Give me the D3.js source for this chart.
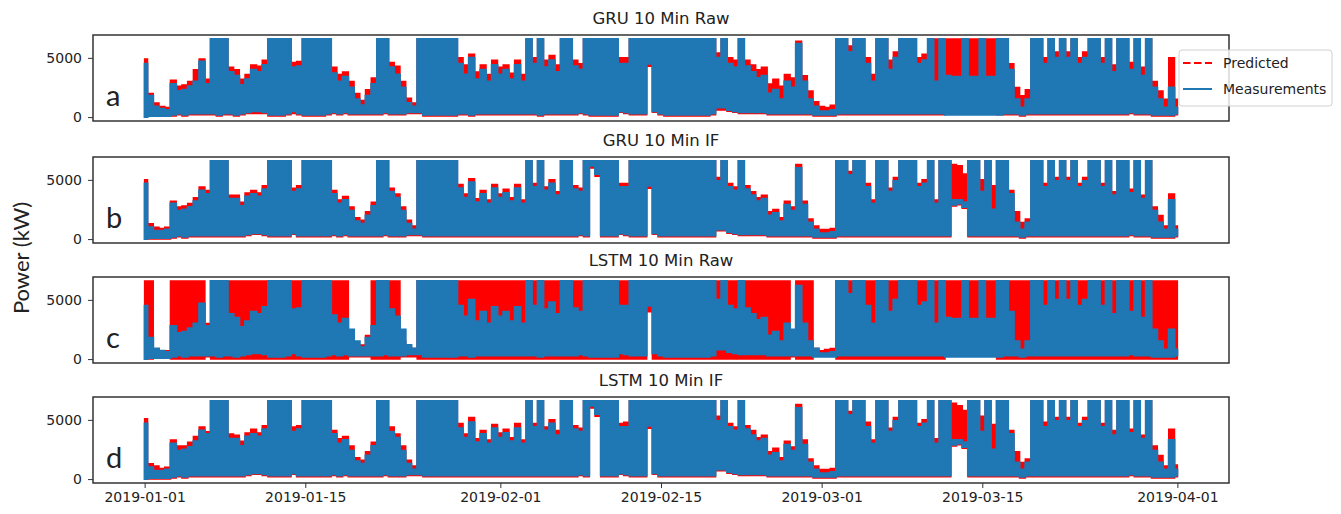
<!DOCTYPE html>
<html>
<head>
<meta charset="utf-8">
<script src="https://cdn.jsdelivr.net/npm/d3@7"></script>
<style>
  body { margin: 0; background: #fff; }
  svg text { font-family: "DejaVu Sans", sans-serif; fill: #222; }
</style>
</head>
<body>
<script>
const width = 1341;
const height = 514;

// half-day samples from 2019-01-01 00:00 to 2019-04-01 00:00 (181 points), values in kW
const startDate = Date.UTC(2019, 0, 1);
const stepMs = 12 * 3600 * 1000;

const tickDates = ['2019-01-01', '2019-01-15', '2019-02-01', '2019-02-15', '2019-03-01', '2019-03-15', '2019-04-01'];
const yTicks = [0, 5000];
const panelTitles = ['GRU 10 Min Raw', 'GRU 10 Min IF', 'LSTM 10 Min Raw', 'LSTM 10 Min IF'];
const panelLetters = ['a', 'b', 'c', 'd'];
const legendLabels = ['Predicted', 'Measurements'];

// measurements, raw (upper / lower envelope of the 10 min trace)
const measRawHi = [
  4500,1800,900,700,600,2800,2200,2300,2600,3000,
  4700,2800,6600,6600,6600,3800,3500,2700,3200,4000,
  3800,4400,6600,6600,6600,6600,4200,4300,6600,6600,
  6600,6600,6600,3700,3000,3400,2500,1500,1000,1800,
  2800,6600,6600,4200,3600,2500,1200,900,6600,6600,
  6600,6600,6600,6600,6600,4500,3600,5000,3200,4000,
  3000,4400,3600,4000,3200,4400,3000,6600,4500,6600,
  4200,4800,3800,6600,6600,4300,4000,6600,6600,6600,
  6600,6600,6600,4500,4500,6600,6600,6600,6600,6600,
  6600,6600,6600,6600,6600,6600,6600,6600,6600,6600,
  5000,6600,4500,4200,6600,4300,3800,3300,3500,2000,
  2300,1500,3000,2500,6200,3000,1500,900,500,500,
  600,6600,6600,5500,6600,6600,4500,3000,6600,6600,
  4000,5000,6600,6600,6600,4500,4800,6600,3000,6600,
  3500,3400,3400,6600,3400,3400,6600,3400,3400,6600,
  6600,4000,1500,800,1500,6600,6600,4500,6600,5000,
  6600,5000,6600,4500,5000,6600,6600,4500,6600,3800,
  6600,6600,4000,6600,3500,6600,2500,1500,800,2500,800
];
const measRawLo = [
  0,100,100,100,100,200,300,200,300,300,
  300,300,300,200,300,300,200,300,400,500,
  500,400,200,200,200,300,500,300,200,200,
  200,200,300,400,300,400,300,300,300,300,
  300,300,400,300,300,300,400,400,400,200,
  200,200,200,200,200,300,300,200,300,300,
  300,300,300,300,300,300,300,300,300,200,
  300,300,300,300,300,300,400,300,200,200,
  200,200,200,500,400,300,300,300,4500,500,
  300,200,200,200,200,200,200,200,200,300,
  800,800,600,500,400,400,400,400,400,300,
  300,300,300,300,300,300,300,200,200,200,
  200,300,300,300,300,300,300,300,300,300,
  300,300,300,300,300,300,300,300,300,300,
  200,200,200,200,200,200,200,200,200,200,
  300,300,300,200,300,300,300,300,300,300,
  300,300,300,300,300,300,300,300,300,300,
  300,300,400,300,300,300,200,200,200,200,300
];

// measurements after isolation-forest cleaning
const measIfHi = [
  4700,1000,700,700,800,3000,2400,2500,2700,3200,
  4100,3800,6600,6600,6600,3400,3400,2800,3600,3800,
  3600,4200,6600,6600,6600,6600,4000,4200,6600,6600,
  6600,6600,6600,3800,3000,3300,2400,1500,1300,2000,
  2800,6600,6600,4000,3500,2400,1300,800,6600,6600,
  6600,6600,6600,6600,6600,4300,3500,4800,3100,3800,
  3000,4300,3500,3900,3200,4300,3000,6600,4400,6600,
  4100,4700,3700,6600,6600,4200,4000,6600,6600,6600,
  6600,6600,6600,4400,4400,6600,6600,6600,6600,6600,
  6600,6600,6600,6600,6600,6600,6600,6600,6600,6600,
  4900,6600,4400,4100,6600,4200,3700,3200,3400,2000,
  2200,1500,2900,2400,6000,2900,1400,800,500,500,
  600,6600,6600,5400,6600,6600,4400,3000,6600,6600,
  4000,4900,6600,6600,6600,4400,4700,6600,3000,6600,
  6600,3300,3300,3100,6600,6600,4000,6600,2500,6600,
  6600,3800,1400,800,1400,6600,6600,4400,6600,4900,
  6600,4900,6600,4400,4900,6600,6600,4400,6600,3700,
  6600,6600,3900,6600,3400,6600,2400,1400,800,3300,800
];
const measIfLo = [
  0,100,100,100,100,200,300,200,300,300,
  300,300,300,300,300,300,300,300,400,500,
  500,400,300,300,300,300,500,300,300,300,
  300,300,300,400,300,400,300,300,300,300,
  300,300,400,300,300,300,400,400,400,300,
  300,300,300,300,300,300,300,300,300,300,
  300,300,300,300,300,300,300,300,300,300,
  300,300,300,300,300,300,400,300,6200,5500,
  300,300,300,500,400,300,300,300,4500,500,
  300,300,300,300,300,300,300,300,300,300,
  800,800,600,500,400,400,400,400,400,300,
  300,300,300,300,300,300,300,200,200,200,
  200,300,300,300,300,300,300,300,300,300,
  300,300,300,300,300,300,300,300,300,300,
  300,2900,3000,2700,300,300,300,300,300,300,
  300,300,300,200,300,300,300,300,300,300,
  300,300,300,300,300,300,300,300,300,300,
  300,300,400,300,300,300,200,200,200,200,300
];

// GRU predictions on raw data
const gruRawPredHi = [
  4900,2000,1200,900,800,3100,2600,2700,3000,4000,
  4900,3200,6600,6600,6600,4200,4000,3200,3600,4400,
  4300,4800,6600,6600,6600,6600,4600,4700,6600,6600,
  6600,6600,6600,4200,3600,3800,3000,2000,1400,2300,
  3300,6600,6600,4600,4300,3000,1600,1200,6600,6600,
  6600,6600,6600,6600,6600,5000,4400,5300,3800,4400,
  3600,4800,4200,4400,3700,4800,3600,6600,5000,6600,
  4800,5200,4400,6600,6600,4800,4500,6600,6600,6600,
  6600,6600,6600,5000,5000,6600,6600,6600,6600,6600,
  6600,6600,6600,6600,6600,6600,6600,6600,6600,6600,
  5400,6600,5000,4800,6600,4800,4400,4000,4200,2800,
  3200,2600,3600,3300,6400,3500,2200,1300,900,800,
  1000,6600,6600,6000,6600,6600,5000,3600,6600,6600,
  4800,5500,6600,6600,6600,5000,5300,6600,6600,6600,
  6600,6600,6600,6600,6600,6600,6600,6600,6600,6600,
  6600,4500,2500,1800,2300,6600,6600,5000,6600,5500,
  6600,5500,6600,5000,5500,6600,6600,5000,6600,4400,
  6600,6600,4600,6600,4200,6600,3000,2200,1500,5000,1500
];
const gruRawPredLo = [
  0,100,100,100,100,100,200,100,200,200,
  200,200,200,100,200,200,100,200,300,300,
  300,300,100,100,100,200,300,200,100,100,
  100,100,200,300,200,300,200,200,200,200,
  200,200,300,200,200,200,300,300,300,100,
  100,100,100,100,100,200,200,100,200,200,
  200,200,200,200,200,200,200,200,200,100,
  200,200,200,200,200,200,300,200,100,100,
  100,100,100,400,300,200,200,200,4300,400,
  200,100,100,100,100,100,100,100,100,200,
  600,600,500,400,300,300,300,300,300,200,
  200,200,200,200,200,200,200,100,100,100,
  100,200,200,200,200,200,200,200,200,200,
  200,200,200,200,200,200,200,200,200,200,
  3400,3400,3400,3400,3400,3400,3400,3400,3400,200,
  200,200,200,100,200,200,200,200,200,200,
  200,200,200,200,200,200,200,200,200,200,
  200,200,300,200,200,200,100,100,100,100,200
];

// GRU predictions on IF data
const gruIfPredHi = [
  5000,1300,1000,900,1000,3200,2700,2800,3000,3500,
  4400,4100,6600,6600,6600,3700,3700,3100,3900,4100,
  3900,4500,6600,6600,6600,6600,4300,4500,6600,6600,
  6600,6600,6600,4100,3300,3600,2700,1800,1600,2300,
  3100,6600,6600,4300,3800,2700,1600,1100,6600,6600,
  6600,6600,6600,6600,6600,4600,3800,5100,3400,4100,
  3300,4600,3800,4200,3500,4600,3300,6600,4700,6600,
  4400,5000,4000,6600,6600,4500,4300,6600,6600,6600,
  6600,6600,6600,4700,4700,6600,6600,6600,6600,6600,
  6600,6600,6600,6600,6600,6600,6600,6600,6600,6600,
  5200,6600,4700,4400,6600,4500,4000,3500,3700,2300,
  2500,1800,3200,2700,6300,3200,1700,1100,800,800,
  900,6600,6600,5700,6600,6600,4700,3300,6600,6600,
  4300,5200,6600,6600,6600,4700,5000,6600,3300,6600,
  6600,6300,6200,5500,6600,6600,5000,6600,4500,6600,
  6600,4100,2300,1400,1700,6600,6600,4700,6600,5200,
  6600,5200,6600,4700,5200,6600,6600,4700,6600,4000,
  6600,6600,4200,6600,3700,6600,2700,2000,1100,3800,1100
];

// LSTM predictions on raw data
const lstmRawPredHi = [
  6600,6600,800,700,700,6600,6600,6600,6600,6600,
  6600,3000,6600,6600,6600,6600,6600,6600,6600,6600,
  6600,6600,6600,6600,6600,6600,6600,6600,6600,6600,
  6600,6600,6600,6600,6600,6600,1500,1200,1200,2000,
  6600,6600,6600,6600,6600,1500,1000,900,6600,6600,
  6600,6600,6600,6600,6600,6600,6600,6600,6600,6600,
  6600,6600,6600,6600,6600,6600,6600,6600,6600,6600,
  6600,6600,6600,6600,6600,6600,6600,6600,6600,6600,
  6600,6600,6600,6600,6600,6600,6600,6600,6600,6600,
  6600,6600,6600,6600,6600,6600,6600,6600,6600,6600,
  6600,6600,6600,6600,6600,6600,6600,6600,6600,6600,
  6600,6600,6600,2000,6600,6600,6600,900,700,800,
  900,6600,6600,6600,6600,6600,6600,6600,6600,6600,
  6600,6600,6600,6600,6600,6600,6600,6600,6600,6600,
  6600,6600,6600,6600,6600,6600,6600,6600,6600,6600,
  6600,6600,6600,6600,6600,6600,6600,6600,6600,6600,
  6600,6600,6600,6600,6600,6600,6600,6600,6600,6600,
  6600,6600,6600,6600,6600,6600,6600,6600,6600,6600,6600
];
const lstmRawPredLo = [
  0,0,100,100,100,0,0,0,0,0,
  0,200,0,0,0,0,0,0,0,0,
  0,0,0,0,0,0,0,0,0,0,
  0,0,0,0,0,0,200,200,200,200,
  0,0,0,0,0,200,200,200,0,0,
  0,0,0,0,0,0,0,0,0,0,
  0,0,0,0,0,0,0,0,0,0,
  0,0,0,0,0,0,0,0,0,0,
  0,0,0,0,0,0,0,0,4000,0,
  0,0,0,0,0,0,0,0,0,0,
  0,0,0,0,0,0,0,0,0,0,
  0,0,0,200,0,0,0,300,300,300,
  300,0,0,0,0,0,0,0,0,0,
  0,0,0,0,0,0,0,0,0,0,
  3300,3300,3300,3300,3300,3300,3300,3300,3300,0,
  0,0,0,0,0,0,0,0,0,0,
  0,0,0,0,0,0,0,0,0,0,
  0,0,0,0,0,0,0,0,0,0,0
];

// LSTM predictions on IF data
const lstmIfPredHi = [
  5100,1300,1100,900,1000,3300,2800,2800,3100,3600,
  4400,4000,6600,6600,6600,3800,3700,3200,3900,4200,
  3900,4500,6600,6600,6600,6600,4400,4500,6600,6600,
  6600,6600,6600,4100,3400,3600,2800,1800,1600,2300,
  3100,6600,6600,4400,3800,2800,1600,1100,6600,6600,
  6600,6600,6600,6600,6600,4700,3800,5200,3400,4100,
  3300,4600,3900,4200,3500,4700,3300,6600,4700,6600,
  4400,5000,4100,6600,6600,4500,4300,6600,6600,6600,
  6600,6600,6600,4700,4800,6600,6600,6600,6600,6600,
  6600,6600,6600,6600,6600,6600,6600,6600,6600,6600,
  5300,6600,4700,4400,6600,4500,4100,3500,3700,2300,
  2600,1800,3200,2700,6300,3300,1700,1100,800,800,
  900,6600,6600,5700,6600,6600,4800,3300,6600,6600,
  4300,5200,6600,6600,6600,4700,5000,6600,3400,6600,
  6600,6400,6200,5800,6600,6600,5300,6600,4600,6600,
  6600,4100,2300,1400,1700,6600,6600,4800,6600,5200,
  6600,5200,6600,4700,5200,6600,6600,4700,6600,4100,
  6600,6600,4200,6600,3700,6600,2800,2000,1100,4200,1200
];

// lower envelope shared by both IF prediction traces (hidden under the measurements mostly)
const ifPredLo = [
  0,0,0,0,0,100,200,100,200,200,
  200,200,200,200,200,200,200,200,300,400,
  400,300,200,200,200,200,400,200,200,200,
  200,200,200,300,200,300,200,200,200,200,
  200,200,300,200,200,200,300,300,300,200,
  200,200,200,200,200,200,200,200,200,200,
  200,200,200,200,200,200,200,200,200,200,
  200,200,200,200,200,200,300,200,6000,5300,
  200,200,200,400,300,200,200,200,4300,400,
  200,200,200,200,200,200,200,200,200,200,
  700,700,500,400,300,300,300,300,300,200,
  200,200,200,200,200,200,200,100,100,100,
  100,200,200,200,200,200,200,200,200,200,
  200,200,200,200,200,200,200,200,200,200,
  200,2800,2900,2600,200,200,200,200,200,200,
  200,200,200,100,200,200,200,200,200,200,
  200,200,200,200,200,200,200,200,200,200,
  200,200,300,200,200,200,100,100,100,100,200
];

const panels = [
  { title: panelTitles[0], letter: panelLetters[0], predHi: gruRawPredHi, predLo: gruRawPredLo, measHi: measRawHi, measLo: measRawLo },
  { title: panelTitles[1], letter: panelLetters[1], predHi: gruIfPredHi, predLo: ifPredLo, measHi: measIfHi, measLo: measIfLo },
  { title: panelTitles[2], letter: panelLetters[2], predHi: lstmRawPredHi, predLo: lstmRawPredLo, measHi: measRawHi, measLo: measRawLo },
  { title: panelTitles[3], letter: panelLetters[3], predHi: lstmIfPredHi, predLo: ifPredLo, measHi: measIfHi, measLo: measIfLo }
];

const plotLeft = 93;
const plotRight = 1229;
const panelTops = [35, 157, 277, 397];
const panelH = 86;
const blue = '#1f77b4';
const red = '#ff0000';
const day = 24 * 3600 * 1000;

function init() {
  const svg = d3.select('body')
    .append('svg')
    .attr('width', width)
    .attr('height', height);

  const x = d3.scaleUtc()
    .domain([new Date(startDate - 4.5 * day), new Date(startDate + 94.5 * day)])
    .range([plotLeft, plotRight]);

  const timeAt = i => new Date(startDate + i * stepMs);

  panels.forEach((p, k) => drawPanel(p, k));

  // date axis under the last panel
  const parse = d3.utcParse('%Y-%m-%d');
  const lastTop = panelTops[3];
  svg.append('g')
    .attr('transform', `translate(0, ${lastTop + panelH})`)
    .call(d3.axisBottom(x)
      .tickValues(tickDates.map(parse))
      .tickFormat(d3.utcFormat('%Y-%m-%d'))
      .tickSize(5)
      .tickPadding(4))
    .call(g => g.select('.domain').remove())
    .call(g => g.selectAll('line').attr('stroke', '#333'))
    .call(g => g.selectAll('text').attr('font-size', 14).attr('fill', '#222'));

  // y label
  svg.append('text')
    .attr('transform', 'translate(29, 258) rotate(-90)')
    .attr('text-anchor', 'middle')
    .style('font-family', 'Lato, "Open Sans", sans-serif')
    .attr('font-size', 22)
    .text('Power (kW)');

  // legend
  const lg = svg.append('g').attr('transform', 'translate(1179, 50)');
  lg.append('rect')
    .attr('width', 153)
    .attr('height', 56)
    .attr('rx', 3)
    .attr('fill', '#fff')
    .attr('fill-opacity', 0.8)
    .attr('stroke', '#d0d0d0');
  legendLabels.forEach((label, i) => {
    const yy = 13 + i * 26;
    lg.append('line')
      .attr('x1', 4).attr('x2', 33)
      .attr('y1', yy).attr('y2', yy)
      .attr('stroke', i === 0 ? red : blue)
      .attr('stroke-width', 2)
      .attr('stroke-dasharray', i === 0 ? '7.5,3.5' : null);
    lg.append('text')
      .attr('x', 44)
      .attr('y', yy)
      .attr('dy', '0.35em')
      .attr('font-size', 14)
      .text(label);
  });

  function drawPanel(p, k) {
    const top = panelTops[k];
    const y = d3.scaleLinear()
      .domain([-330, 6930])
      .range([top + panelH, top]);

    const g = svg.append('g');

    g.append('clipPath')
      .attr('id', 'clip' + k)
      .append('rect')
      .attr('x', plotLeft)
      .attr('y', top)
      .attr('width', plotRight - plotLeft)
      .attr('height', panelH);

    // band between the lower and upper envelope of each half-day window
    const band = (lo, hi) => d3.area()
      .curve(d3.curveStep)
      .x((d, i) => x(timeAt(i)))
      .y0((d, i) => y(lo[i]))
      .y1(d => y(d))(hi);

    const plot = g.append('g').attr('clip-path', `url(#clip${k})`);

    plot.append('path')
      .attr('d', band(p.predLo, p.predHi))
      .attr('fill', red)
      .attr('stroke', red)
      .attr('stroke-width', 1.5);

    plot.append('path')
      .attr('d', band(p.measLo, p.measHi))
      .attr('fill', blue)
      .attr('stroke', blue)
      .attr('stroke-width', 2);

    g.append('rect')
      .attr('x', plotLeft)
      .attr('y', top)
      .attr('width', plotRight - plotLeft)
      .attr('height', panelH)
      .attr('fill', 'none')
      .attr('stroke', '#333')
      .attr('stroke-width', 1.5);

    g.append('g')
      .attr('transform', `translate(${plotLeft}, 0)`)
      .call(d3.axisLeft(y).tickValues(yTicks).tickFormat(d3.format('d')).tickSize(5).tickPadding(6))
      .call(s => s.select('.domain').remove())
      .call(s => s.selectAll('line').attr('stroke', '#333'))
      .call(s => s.selectAll('text').attr('font-size', 14).attr('fill', '#222'));

    g.append('text')
      .attr('x', (plotLeft + plotRight) / 2)
      .attr('y', top - 11)
      .attr('text-anchor', 'middle')
      .attr('font-size', 16.5)
      .text(p.title);

    g.append('text')
      .attr('x', 106)
      .attr('y', top + 71)
      .style('font-family', 'Lato, "Open Sans", sans-serif')
      .attr('font-size', 29)
      .attr('fill', '#000')
      .text(p.letter);
  }
}

init();
</script>
</body>
</html>
